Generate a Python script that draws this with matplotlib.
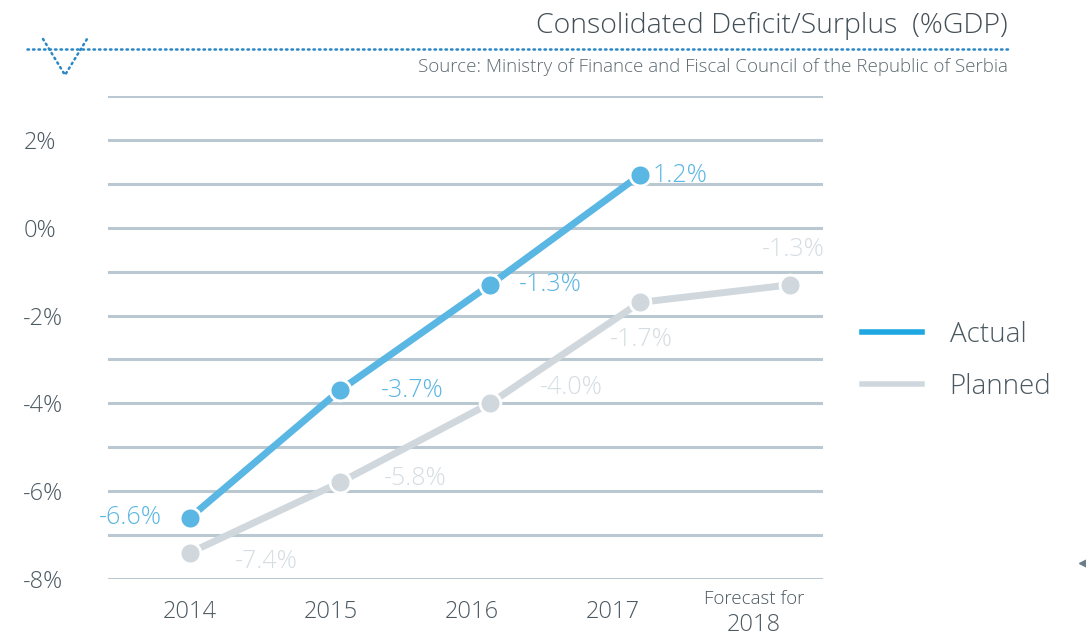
import matplotlib
matplotlib.use("Agg")
import matplotlib.pyplot as plt
from matplotlib.lines import Line2D

plt.rcParams['font.family'] = ['Open Sans', 'DejaVu Sans']

years = ["2014", "2015", "2016", "2017", "Forecast for\n2018"]
actual = [-6.6, -3.7, -1.3, 1.2]
planned = [-7.4, -5.8, -4.0, -1.7, -1.3]
actual_labels = ["-6.6%", "-3.7%", "-1.3%", "1.2%"]
planned_labels = ["-7.4%", "-5.8%", "-4.0%", "-1.7%", "-1.3%"]
yticks = [-8, -6, -4, -2, 0, 2]
ytick_labels = ["-8%", "-6%", "-4%", "-2%", "0%", "2%"]

c_act = "#5ab6e2"
c_plan = "#d0d8de"
c_grid = "#b9c8d1"
c_text = "#4b5961"
W = 'light'

fig = plt.figure(figsize=(10.86, 6.35), dpi=100)
ax = fig.add_axes([108/1086, 1-579/635, (823-108)/1086, (579-96)/635])
ax.set_xlim(-0.547, 4.22)
ax.set_ylim(-8, 3)
for s in ax.spines.values():
    s.set_visible(False)
for g in range(-8, 4):
    ax.axhline(g, color=c_grid, lw=2.2, zorder=0)
ax.tick_params(length=0)
ax.set_yticks(yticks)
ax.set_yticklabels(ytick_labels, fontsize=17, color=c_text, fontweight=W)
for lab in ax.get_yticklabels():
    lab.set_horizontalalignment('left')
ax.tick_params(axis='y', pad=61)
ax.set_xticks([])

xa = list(range(len(actual)))
xp = list(range(len(planned)))
ax.plot(xp, planned, color=c_plan, lw=5, zorder=2, solid_capstyle='round')
ax.plot(xp, planned, 'o', ms=15, color=c_plan, mec='white', mew=2, zorder=3)
ax.plot(xa, actual, color=c_act, lw=5, zorder=4, solid_capstyle='round')
ax.plot(xa, actual, 'o', ms=15, color=c_act, mec='white', mew=2, zorder=5)

# x labels
for i, y in enumerate(years):
    xpos = i * 0.94
    if "\n" in y:
        a, b = y.split("\n")
        ax.text(xpos, -8.45, a, ha='center', va='center', fontsize=13.5, color=c_text,
                fontweight=W, clip_on=False)
        ax.text(xpos, -9.05, b, ha='center', va='center', fontsize=17, color=c_text,
                fontweight=W, clip_on=False)
    else:
        ax.text(xpos, -8.75, y, ha='center', va='center', fontsize=17, color=c_text,
                fontweight=W, clip_on=False)

# actual labels
a_off = [(-0.4, 0.0), (0.48, 0.0), (0.4, 0.0), (0.27, 0.0)]
for i, (v, t) in enumerate(zip(actual, actual_labels)):
    dx, dy = a_off[i]
    ax.text(i + dx, v + dy, t, color=c_act, fontsize=18, ha='center', va='center', fontweight=W)

p_off = [(0.51, -0.2), (0.5, 0.1), (0.54, 0.35), (0.01, -0.85), (0.02, 0.8)]
for i, (v, t) in enumerate(zip(planned, planned_labels)):
    dx, dy = p_off[i]
    ax.text(i + dx, v + dy, t, color="#d6dde2", fontsize=18, ha='center', va='center',
            fontweight=W)

# overlay for decorations
ov = fig.add_axes([0, 0, 1, 1], zorder=-1)
ov.set_xlim(0, 1086)
ov.set_ylim(635, 0)
ov.axis('off')
blue = "#2a87c5"
ov.plot([27, 1010], [49, 49], color=blue, lw=1.8, ls=(0, (0.6, 1.6)), dash_capstyle='round')
ov.plot([43, 65, 87], [39, 75, 39], color=blue, lw=1.8, ls=(0, (0.6, 1.6)), dash_capstyle='round')
ov.plot([1083], [563], marker='<', color="#6b7d88", ms=6)
fig.text(1008/1086, 1-26/635, "Consolidated Deficit/Surplus  (%GDP)", ha='right', va='center',
         fontsize=20.5, color="#434f57", fontweight=W)
fig.text(1008/1086, 1-67/635, "Source: Ministry of Finance and Fiscal Council of the Republic of Serbia",
         ha='right', va='center', fontsize=13.5, color="#5c6a72", fontweight=W)

handles = [Line2D([], [], color="#1ea7e0", lw=4), Line2D([], [], color=c_plan, lw=4)]
fig.legend(handles, ["Actual", "Planned"], loc='center left', bbox_to_anchor=(862/1086, 1-361/635),
           frameon=False, handlelength=2.15, handletextpad=1.0, labelspacing=0.85,
           borderpad=0, borderaxespad=0, labelcolor=c_text, prop={'weight': W, 'size': 20})

fig.savefig("out.png", dpi=100)
